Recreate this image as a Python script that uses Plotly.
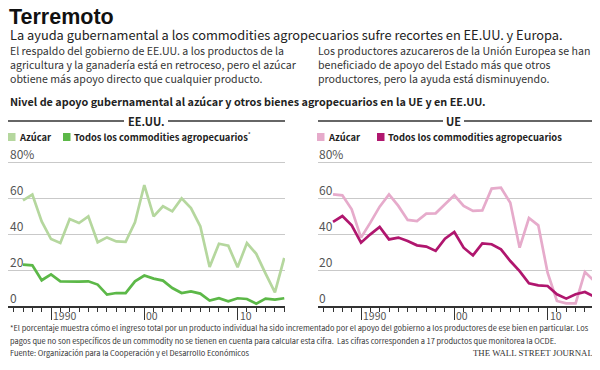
import plotly.graph_objects as go

years = list(range(1987, 2016))

us_sugar = [58.7, 61.9, 47, 37.2, 35, 48.3, 46.1, 49.8, 35.4, 38.1, 35.9, 35.6, 46.5, 67.2,
            49.8, 55.4, 52.6, 59.8, 54.4, 44.3, 21.7, 34.6, 33.5, 21.5, 35, 29, 18, 7.6, 26.7]
us_all = [23, 22.6, 14.3, 17.6, 13.7, 13.5, 13.5, 13.7, 11.9, 6.3, 7.2, 7.2, 13.7, 16.9,
          15.2, 14.1, 10, 7.2, 8.1, 6.9, 3, 4.3, 2.6, 4.3, 3.9, 1.3, 4.1, 3.5, 4.3]
eu_sugar = [62, 61.5, 53.7, 38, 46.3, 55.2, 62, 55.6, 47.8, 47.2, 51.3, 51.5, 56.5, 61.5,
            55.6, 52.8, 53.1, 65.2, 65.7, 57.4, 32.4, 48.9, 44.8, 18.5, 2.8, 1.5, 1.5, 18.9, 13.9]
eu_all = [46.7, 50, 44.8, 35.2, 39.8, 43.9, 37, 38, 36.1, 33.7, 33, 30.6, 37.4, 41.1,
          32.4, 28.1, 34.8, 34.3, 31.5, 25, 19.4, 12.6, 11.5, 11.1, 6.5, 4.1, 6.5, 7.8, 5.2]

y_ticks = [0, 20, 40, 60, 80]
y_ticktext = ["0", "20", "40", "60", "80%"]
x_ticks = [1990, 2000, 2010]
x_ticktext = ["1990", "00", "10"]

legend_labels = ["Azúcar", "Todos los commodities agropecuarios"]

C_US_SUGAR = "#b5d79e"
C_US_ALL = "#5cb848"
C_EU_SUGAR = "#e6abcb"
C_EU_ALL = "#b0166e"
GRID = "#c9c9c9"
TXT = "#222222"
NARROW = "Noto Sans CJK SC, Lato, sans-serif"

# the page body has an 8px margin; the figure is sized to fit the window inside it
OFF = 8
W, H = 600 - OFF, 370 - OFF


def px(x):
    return (x - OFF) / W


def py(y):
    return 1 - (y - OFF) / H


fig = go.Figure()
fig.add_trace(go.Scatter(x=years, y=us_sugar, mode="lines", line=dict(color=C_US_SUGAR, width=2.7),
                         xaxis="x", yaxis="y", showlegend=False))
fig.add_trace(go.Scatter(x=years, y=us_all, mode="lines", line=dict(color=C_US_ALL, width=2.7),
                         xaxis="x", yaxis="y", showlegend=False))
fig.add_trace(go.Scatter(x=years, y=eu_sugar, mode="lines", line=dict(color=C_EU_SUGAR, width=2.7),
                         xaxis="x2", yaxis="y2", showlegend=False))
fig.add_trace(go.Scatter(x=years, y=eu_all, mode="lines", line=dict(color=C_EU_ALL, width=2.7),
                         xaxis="x2", yaxis="y2", showlegend=False))

xr = [1985.39, 2015.08]
YTOP = 81
ydom = [py(306), py(306 - YTOP * 1.8)]


def xaxis(domain, anchor):
    return dict(domain=domain, range=xr, anchor=anchor, showgrid=False, zeroline=False,
                showline=True, linecolor="#333333", linewidth=2,
                tickmode="array", tickvals=x_ticks, showticklabels=False,
                ticks="outside", ticklen=12, tickwidth=1.2, tickcolor="#333333",
                minor=dict(dtick=1, tick0=1987, ticks="outside", ticklen=4, tickwidth=1.2,
                           tickcolor="#333333", showgrid=False),
                fixedrange=True)


def yaxis(anchor):
    return dict(domain=ydom, range=[0, YTOP], anchor=anchor, showgrid=True, gridcolor=GRID,
                gridwidth=1.2, zeroline=False, showline=False,
                tickmode="array", tickvals=y_ticks[1:], showticklabels=False, ticks="",
                fixedrange=True)


fig.update_layout(
    width=W, height=H, margin=dict(l=0, r=0, t=0, b=0),
    paper_bgcolor="white", plot_bgcolor="white",
    xaxis=xaxis([px(8), px(285)], "y"),
    yaxis=yaxis("x"),
    xaxis2=xaxis([px(318), px(595)], "y2"),
    yaxis2=yaxis("x2"),
)

ann = []
shapes = []


def text(x, y, s, size, bold=False, family=NARROW, color=TXT, xanchor="left"):
    if bold:
        s = "<b>" + s + "</b>"
    ann.append(dict(x=px(x), y=py(y), xref="paper", yref="paper", text=s, showarrow=False,
                    xanchor=xanchor, yanchor="middle", font=dict(family=family, size=size, color=color)))


# axis tick labels placed through the axes
for xa, ya, x0 in [("x", "y", 8), ("x2", "y2", 317)]:
    for v, t in zip(x_ticks, x_ticktext):
        ann.append(dict(x=v, y=py(315.5), xref=xa, yref="paper", text=t, showarrow=False,
                        xanchor="left", yanchor="middle", xshift=0,
                        font=dict(family=NARROW, size=10.5, color="#555555")))
    for v, t in zip(y_ticks, y_ticktext):
        ann.append(dict(x=px(x0), y=v, xref="paper", yref=ya, text=t, showarrow=False,
                        xanchor="left", yanchor="bottom", yshift=-2,
                        font=dict(family=NARROW, size=12, color="#555555")))

text(7, 17, "Terremoto", 21.5, bold=True, family="Liberation Sans, Arial, sans-serif", color="#111111")
text(8, 34, "La ayuda gubernamental a los commodities agropecuarios sufre recortes en EE.UU. y Europa.", 12.8)

left_par = ["El respaldo del gobierno de EE.UU. a los productos de la",
            "agricultura y la ganadería está en retroceso, pero el azúcar",
            "obtiene más apoyo directo que cualquier producto."]
right_par = ["Los productores azucareros de la Unión Europea se han",
             "beneficiado de apoyo del Estado más que otros",
             "productores, pero la ayuda está disminuyendo."]
for i, s in enumerate(left_par):
    text(8, 50.5 + 14 * i, s, 10.6, color="#333333")
for i, s in enumerate(right_par):
    text(316, 50.5 + 14 * i, s, 10.6, color="#333333")

text(8, 101, "Nivel de apoyo gubernamental al azúcar y otros bienes agropecuarios en la UE y en EE.UU.", 10.8, bold=True)

# panel headers
text(146, 121, "EE.UU.", 11, bold=True, xanchor="center")
text(453, 121, "UE", 11, bold=True, xanchor="center")
for x0, x1 in [(8, 124), (168, 285), (318, 443), (464, 594)]:
    shapes.append(dict(type="line", xref="paper", yref="paper", x0=px(x0), x1=px(x1),
                       y0=py(121), y1=py(121), line=dict(color="#333333", width=1.5)))


def legend_item(x, label, color, sup=False):
    shapes.append(dict(type="rect", xref="paper", yref="paper", x0=px(x), x1=px(x + 7.5),
                       y0=py(141), y1=py(133), fillcolor=color, line=dict(width=0)))
    t = "<b>" + label + "</b>" + ("<sup>*</sup>" if sup else "")
    ann.append(dict(x=px(x + 9), y=py(137), xref="paper", yref="paper", text=t, showarrow=False,
                    xanchor="left", yanchor="middle", font=dict(family=NARROW, size=9.4, color=TXT)))


legend_item(8, legend_labels[0], C_US_SUGAR)
legend_item(63, legend_labels[1], C_US_ALL, sup=True)
legend_item(317, legend_labels[0], C_EU_SUGAR)
legend_item(377, legend_labels[1], C_EU_ALL)

foot = ["*El porcentaje muestra cómo el ingreso total por un producto individual ha sido incrementado por el apoyo del gobierno a los productores de ese bien en particular. Los",
        "pagos que no son específicos de un commodity no se tienen en cuenta para calcular esta cifra.  Las cifras corresponden a 17 productos que monitorea la OCDE.",
        "Fuente: Organización para la Cooperación y el Desarrollo Económicos"]
for i, s in enumerate(foot):
    text(8, 327.5 + 12.5 * i, s, 7.45, color="#333333")
text(595, 352.5, "THE WALL STREET JOURNAL", 8.8, family="Liberation Serif, serif", color="#333333", xanchor="right")

fig.update_layout(annotations=ann, shapes=shapes)
fig.write_html("out.html")
